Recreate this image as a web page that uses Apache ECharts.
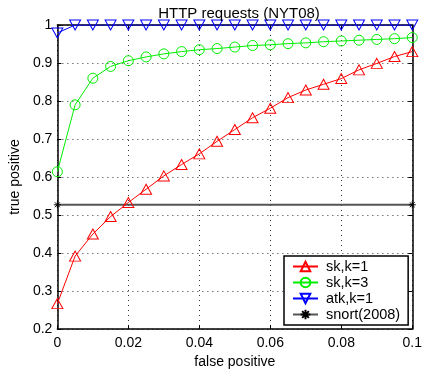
<!DOCTYPE html>
<html><head><meta charset="utf-8">
<script src="https://cdn.jsdelivr.net/npm/echarts@6/dist/echarts.min.js"></script>
<style>html,body{margin:0;padding:0;background:#fff}#c{width:425px;height:374px}</style>
</head><body><div id="c"></div>
<script>
var fpValues = [0,0.005,0.01,0.015,0.02,0.025,0.03,0.035,0.04,0.045,0.05,0.055,0.06,0.065,0.07,0.075,0.08,0.085,0.09,0.095,0.1];
var sk1 = [0.267,0.392,0.450,0.496,0.533,0.568,0.603,0.633,0.661,0.694,0.725,0.756,0.781,0.809,0.829,0.844,0.859,0.882,0.899,0.917,0.930];
var sk3 = [0.614,0.790,0.860,0.891,0.906,0.916,0.924,0.930,0.935,0.938,0.942,0.946,0.948,0.951,0.953,0.956,0.958,0.960,0.962,0.964,0.967];
var atk1 = [0.979,1,1,1,1,1,1,1,1,1,1,1,1,1,1,1,1,1,1,1,1];
var snortX = [0,0.1];
var snortY = [0.527,0.527];
var seriesNames = ['sk,k=1','sk,k=3','atk,k=1','snort(2008)'];
var titleText = 'HTTP requests (NYT08)';
var xTitle = 'false positive';
var yTitle = 'true positive';

function pairs(xs, ys){ return xs.map(function(x,i){ return [x, ys[i]]; }); }
var font = 'Liberation Sans, Arial, Helvetica, sans-serif';
var star = 'path://M0,-5L0,5M-5,0L5,0M-3.5,-3.5L3.5,3.5M-3.5,3.5L3.5,-3.5';

var chart = echarts.init(document.getElementById('c'), null, {renderer:'canvas'});
var dotted = {show:true, lineStyle:{color:'#333', width:1, type:[1,4]}};
function mk(color){ return {color:'rgba(255,255,255,0)', borderColor:color, borderWidth:1}; }
chart.setOption({
  animation:false,
  backgroundColor:'#fff',
  title:{text:titleText, left:234, top:1, textAlign:'center',
    textStyle:{fontFamily:font, fontSize:15, fontWeight:'normal', color:'#000'}},
  grid:{left:55, right:12, top:25, bottom:41, show:false},
  legend:{
    orient:'vertical', left:284, top:256, width:122,
    data:seriesNames,
    backgroundColor:'#fff', borderColor:'#000', borderWidth:1.5,
    padding:[3,8,3,8], itemGap:1, itemWidth:25, itemHeight:12,
    textStyle:{fontFamily:font, fontSize:14.5, color:'#000', padding:[0,0,0,3]}
  },
  xAxis:[{
    type:'value', min:0, max:0.1, interval:0.02, position:'bottom',
    name:xTitle, nameLocation:'middle', nameGap:22,
    nameTextStyle:{fontFamily:font, fontSize:14, color:'#000'},
    axisLine:{show:true, onZero:false, lineStyle:{color:'#000', width:1.5}},
    axisTick:{show:true, inside:true, length:4, lineStyle:{color:'#000'}},
    axisLabel:{fontFamily:font, fontSize:14, color:'#000', margin:7},
    splitLine:dotted
  },{
    type:'value', min:0, max:0.1, interval:0.02, position:'top',
    axisLine:{show:true, onZero:false, lineStyle:{color:'#000', width:1.5}},
    axisTick:{show:true, inside:true, length:4, lineStyle:{color:'#000'}},
    axisLabel:{show:false}, splitLine:{show:false}
  }],
  yAxis:[{
    type:'value', min:0.2, max:1, interval:0.1, position:'left',
    name:yTitle, nameLocation:'middle', nameGap:31,
    nameTextStyle:{fontFamily:font, fontSize:14, color:'#000'},
    axisLine:{show:true, onZero:false, lineStyle:{color:'#000', width:1.5}},
    axisTick:{show:true, inside:true, length:4, lineStyle:{color:'#000'}},
    axisLabel:{fontFamily:font, fontSize:14, color:'#000', margin:5,
      formatter:function(v){ return String(Math.round(v*10)/10); }},
    splitLine:dotted
  },{
    type:'value', min:0.2, max:1, interval:0.1, position:'right',
    axisLine:{show:true, onZero:false, lineStyle:{color:'#000', width:1.5}},
    axisTick:{show:true, inside:true, length:4, lineStyle:{color:'#000'}},
    axisLabel:{show:false}, splitLine:{show:false}
  }],
  series:[
    {name:seriesNames[0], type:'line', data:pairs(fpValues, sk1),
     symbol:'triangle', symbolSize:[11,10],
     lineStyle:{color:'#ff0000', width:1}, itemStyle:mk('#ff0000'), z:3},
    {name:seriesNames[1], type:'line', data:pairs(fpValues, sk3),
     symbol:'circle', symbolSize:10,
     lineStyle:{color:'#00ee00', width:1}, itemStyle:mk('#00ee00'), z:3},
    {name:seriesNames[2], type:'line', data:pairs(fpValues, atk1),
     symbol:'triangle', symbolRotate:180, symbolSize:[11,10],
     lineStyle:{color:'#0000ff', width:1}, itemStyle:mk('#0000ff'), z:4},
    {name:seriesNames[3], type:'line', data:pairs(snortX, snortY),
     symbol:star, symbolSize:7,
     lineStyle:{color:'#555', width:2}, itemStyle:{color:'none', borderColor:'#000', borderWidth:1}, z:2}
  ]
});
</script></body></html>
